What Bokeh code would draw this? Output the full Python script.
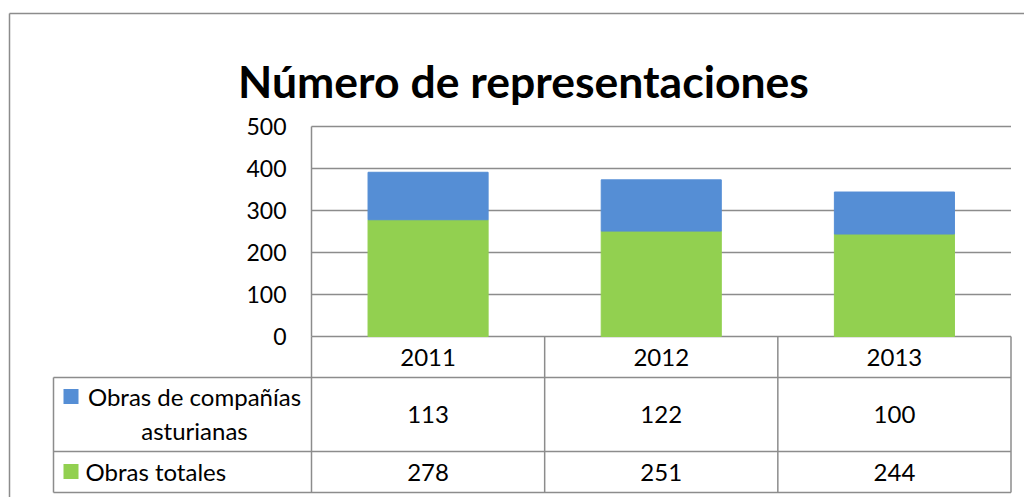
from bokeh.plotting import figure
from bokeh.models import ColumnDataSource, Range1d, FixedTicker
from bokeh.core.properties import value
from bokeh.embed import file_html
from bokeh.resources import INLINE

# ---- data ----
title = "Número de representaciones"
years = ["2011", "2012", "2013"]
series_names = ["Obras de compañías\nasturianas", "Obras totales"]
asturianas = [113, 122, 100]
totales = [278, 251, 244]
y_ticks = [0, 100, 200, 300, 400, 500]

BLUE = "#558ED5"
GREEN = "#92D050"
GRAY = "#8c8c8c"
FONT = "Lato"
FS = "24px"

# ---- layout helpers (canvas pixel -> data coordinate) ----
U = (1010.5 - 311) / 3.0          # px per category
PPU = (336 - 126) / 500.0         # px per y unit
def sx(X):
    return -0.5 + (X - 311) / U
def sy(Y):
    return (336 - Y) / PPU

W, H = 1024, 497
p = figure(width=W, height=H, output_backend="svg", toolbar_location=None,
           x_range=Range1d(sx(0), sx(W)), y_range=Range1d(sy(H), sy(0)),
           min_border=0, min_border_left=0, min_border_right=0,
           min_border_top=0, min_border_bottom=0)
p.outline_line_color = None
p.background_fill_color = "white"
p.border_fill_color = "white"
p.xaxis.visible = False
p.xgrid.visible = False
p.ygrid.visible = False

# y axis placed at plot-area left edge
ya = p.yaxis[0]
ya.fixed_location = -0.5
ya.bounds = (y_ticks[0], y_ticks[-1])
ya.ticker = FixedTicker(ticks=y_ticks)
ya.axis_line_color = GRAY
ya.axis_line_width = 1.5
ya.major_tick_line_color = None
ya.minor_tick_line_color = None
ya.major_tick_out = 0
ya.major_tick_in = 0
ya.major_label_standoff = 25
ya.major_label_text_font = FONT
ya.major_label_text_font_size = "23px"
ya.major_label_text_color = "black"

xs = list(range(len(years)))

# horizontal gridlines from tick list
p.segment(x0=[-0.5] * len(y_ticks), x1=[2.5] * len(y_ticks), y0=y_ticks, y1=y_ticks,
          line_color=GRAY, line_width=1.5)

# stacked bars
src = ColumnDataSource(dict(x=xs, totales=totales, asturianas=asturianas))
p.vbar_stack(["totales", "asturianas"], x="x", width=0.515, source=src,
             color=[GREEN, BLUE])

# outer chart border
p.segment(x0=[sx(9), sx(9)], y0=[sy(13), sy(13)], x1=[sx(9), sx(1030)], y1=[sy(600), sy(13)],
          line_color=GRAY, line_width=1.5)

# title
p.text(x=[sx(523)], y=[sy(80)], text=[title], text_font=value(FONT),
       text_font_style="bold", text_font_size="44.5px", text_align="center",
       text_baseline="alphabetic", text_color="black")

# data table grid
r_top, r1, r2, r_bot = 336, 377, 451, 492
hx0 = [sx(53), sx(53), sx(53)]
hx1 = [2.5, 2.5, 2.5]
hy = [sy(r1), sy(r2), sy(r_bot)]
p.segment(x0=hx0, x1=hx1, y0=hy, y1=hy, line_color=GRAY, line_width=1.5)
vx = [sx(53), -0.5] + [i + 0.5 for i in xs]
vy0 = [sy(r1), sy(r_top)] + [sy(r_top)] * len(xs)
p.segment(x0=vx, x1=vx, y0=vy0, y1=[sy(r_bot)] * len(vx), line_color=GRAY, line_width=1.5)

# year header
p.text(x=xs, y=[sy((r_top + r1) / 2)] * 3, text=years, text_font=value(FONT),
       text_font_size=FS, text_align="center", text_baseline="middle", text_color="black")
# values
p.text(x=xs, y=[sy((r1 + r2) / 2)] * 3, text=[str(v) for v in asturianas], text_font=value(FONT),
       text_font_size=FS, text_align="center", text_baseline="middle", text_color="black")
p.text(x=xs, y=[sy((r2 + r_bot) / 2)] * 3, text=[str(v) for v in totales], text_font=value(FONT),
       text_font_size=FS, text_align="center", text_baseline="middle", text_color="black")

# legend keys in table
p.scatter(x=[sx(70.5), sx(70.5)], y=[sy(396), sy(471)], marker="square", size=15,
          color=[BLUE, GREEN], line_color=None)
p.text(x=[sx(194)], y=[sy(413)], text=[series_names[0]], text_font=value(FONT),
       text_font_size=FS, text_align="center", text_baseline="middle",
       text_line_height=1.2, text_color="black")
p.text(x=[sx(85)], y=[sy(471)], text=[series_names[1]], text_font=value(FONT),
       text_font_size=FS, text_align="left", text_baseline="middle", text_color="black")

open("out.html", "w").write(file_html(p, INLINE))
